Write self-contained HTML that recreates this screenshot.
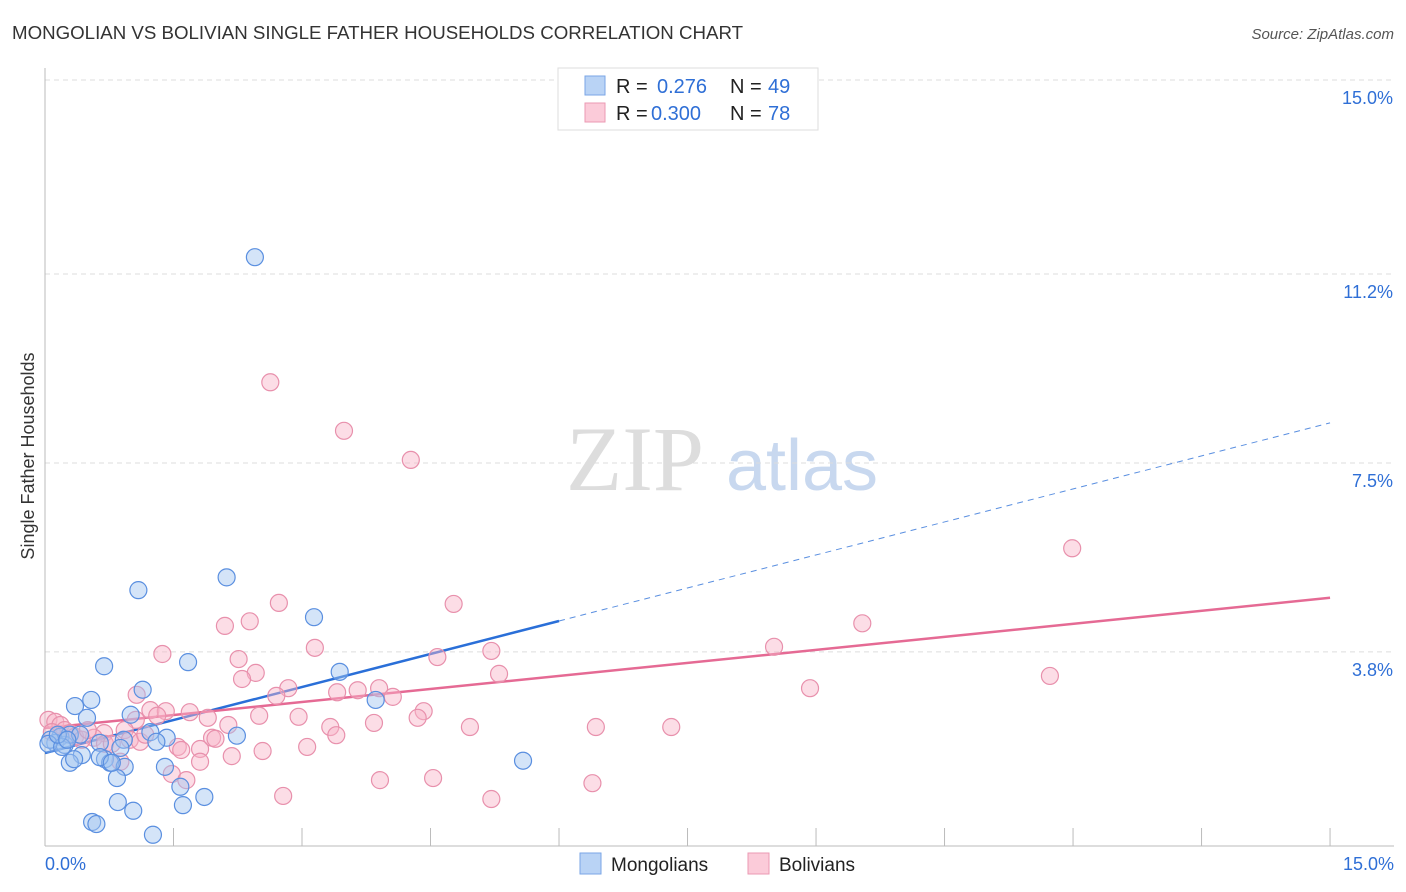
<!DOCTYPE html>
<html><head><meta charset="utf-8"><style>
body{margin:0;background:#fff;font-family:"Liberation Sans",sans-serif;}
svg{display:block}
</style></head><body>
<svg id="chart" width="1406" height="892">
<text x="12" y="39" font-size="18.7" fill="#333">MONGOLIAN VS BOLIVIAN SINGLE FATHER HOUSEHOLDS CORRELATION CHART</text>
<text x="1394" y="39" font-size="15" fill="#555" font-style="italic" text-anchor="end">Source: ZipAtlas.com</text>
<text x="34" y="456" font-size="18" fill="#333" text-anchor="middle" transform="rotate(-90 34 456)">Single Father Households</text>
<g><text x="635" y="490" font-size="92" font-family="Liberation Serif,serif" fill="#ddd" text-anchor="middle">ZIP</text><text x="802" y="490" font-size="72" fill="#c8d8ef" text-anchor="middle">atlas</text></g>
<g id="grid"></g><g id="axes"></g><g id="lines"></g><g id="pts"></g>
<g>
<rect x="558" y="68" width="260" height="62" fill="#fff" stroke="#ddd"/>
<rect x="585" y="76" width="20" height="19" fill="#b9d3f5" stroke="#7aa6e6"/>
<rect x="585" y="103" width="20" height="19" fill="#fbcbd9" stroke="#eb9ab3"/>
<text x="616" y="93" font-size="20" fill="#222">R = </text><text x="657" y="93" font-size="20" fill="#2f6fd6">0.276</text><text x="730" y="93" font-size="20" fill="#222">N = </text><text x="768" y="93" font-size="20" fill="#2f6fd6">49</text>
<text x="616" y="120" font-size="20" fill="#222">R = </text><text x="651" y="120" font-size="20" fill="#2f6fd6">0.300</text><text x="730" y="120" font-size="20" fill="#222">N = </text><text x="768" y="120" font-size="20" fill="#2f6fd6">78</text>
</g>
<g>
<rect x="580" y="853" width="21" height="21" fill="#b9d3f5" stroke="#7aa6e6"/><text x="611" y="871" font-size="19" fill="#222">Mongolians</text>
<rect x="748" y="853" width="21" height="21" fill="#fbcbd9" stroke="#eb9ab3"/><text x="779" y="871" font-size="19" fill="#222">Bolivians</text>
</g>
<text x="45" y="870" font-size="18" fill="#2f6fd6">0.0%</text>
<text x="1394" y="870" font-size="18" fill="#2f6fd6" text-anchor="end">15.0%</text>
</svg>
<script>
const yTicks=[15.0,11.2,7.5,3.8];
const yTickLabels=["15.0%","11.2%","7.5%","3.8%"];
const xTicks=[0,1.5,3,4.5,6,7.5,9,10.5,12,13.5,15];
const mongoX=[2.45,2.12,1.09,3.14,0.69,1.67,3.44,1.14,0.54,3.86,0.35,1.00,0.49,2.24,1.23,1.42,0.92,1.30,0.64,0.18,0.12,0.23,0.06,0.29,0.41,0.88,0.43,0.29,0.34,0.70,0.76,0.93,1.40,0.84,1.58,5.58,0.85,1.86,1.61,1.03,0.55,0.60,1.26,0.04,0.20,0.15,0.26,0.64,0.78];
const mongoY=[11.53,5.26,5.01,4.48,3.52,3.60,3.41,3.06,2.86,2.86,2.74,2.57,2.51,2.16,2.23,2.12,2.08,2.04,2.02,2.14,2.02,1.98,2.08,2.18,2.18,1.92,1.78,1.63,1.70,1.70,1.63,1.55,1.55,1.33,1.16,1.67,0.86,0.96,0.80,0.69,0.47,0.43,0.22,2.00,1.94,2.18,2.08,1.74,1.63];
const bolX=[2.63,3.49,4.27,11.99,2.73,4.77,2.39,2.10,9.54,1.37,3.15,8.51,2.26,4.58,5.21,11.73,2.46,2.30,5.30,8.93,2.84,1.07,2.70,3.90,3.65,3.41,4.06,4.42,1.23,1.41,1.69,1.31,2.50,2.96,1.90,4.35,3.84,1.06,2.14,3.33,4.96,6.43,7.31,0.93,3.40,0.69,0.57,1.95,1.99,0.99,3.06,1.11,1.55,1.59,2.54,1.81,2.18,1.81,0.88,1.48,1.65,3.91,4.53,6.39,2.78,5.21,0.04,0.12,0.18,0.23,0.29,0.35,0.43,0.50,0.08,0.70,0.78,1.17];
const bolY=[9.08,8.13,7.56,5.83,4.76,4.74,4.40,4.31,4.36,3.76,3.88,3.90,3.66,3.70,3.82,3.33,3.39,3.27,3.37,3.09,3.09,2.96,2.94,3.09,3.05,3.01,2.92,2.64,2.66,2.64,2.62,2.55,2.55,2.53,2.51,2.51,2.41,2.47,2.37,2.33,2.33,2.33,2.33,2.27,2.17,2.21,2.12,2.12,2.10,2.08,1.94,2.04,1.94,1.88,1.86,1.90,1.76,1.65,1.65,1.41,1.29,1.29,1.33,1.23,0.98,0.92,2.47,2.43,2.37,2.27,2.21,2.14,2.08,2.27,2.23,2.00,2.00,2.18];
const blueLine=[1.82,0.431]; const pinkLine=[2.31,0.170];
const NS="http://www.w3.org/2000/svg";
const X=v=>45+v*85.67, Y=v=>846-v*51.07;
function mk(p,t,a){const e=document.createElementNS(NS,t);for(const k in a)e.setAttribute(k,a[k]);p.appendChild(e);return e;}
const grid=document.getElementById('grid'),axes=document.getElementById('axes'),lines=document.getElementById('lines'),pts=document.getElementById('pts');
yTicks.forEach((t,i)=>{
 const l=mk(grid,'line',{x1:45,x2:1394,y1:Y(t),y2:Y(t),stroke:'#ddd','stroke-dasharray':'5,4'});
 
 
 const tx=mk(grid,'text',{x:1393,y:Y(t)+24,'font-size':18,fill:'#2f6fd6','text-anchor':'end'});tx.textContent=yTickLabels[i];
 
 
});
const ya=mk(axes,'line',{x1:45,x2:45,y1:68,y2:846,stroke:'#bbb'});


const xa=mk(axes,'line',{x1:45,x2:1394,y1:846,y2:846,stroke:'#bbb'});


xTicks.slice(1).forEach(t=>{const l=mk(axes,'line',{x1:X(t),x2:X(t),y1:828,y2:846,stroke:'#bbb'});
 
 });
function dots(xs,ys,fill,stroke,name){xs.forEach((x,i)=>{const c=mk(pts,'circle',{cx:X(x),cy:Y(ys[i]),r:8.5,fill:fill,stroke:stroke,'stroke-width':1.2});
 
 });}
dots(bolX,bolY,'rgba(248,180,200,0.45)','#e890ac','bolivian-point');
dots(mongoX,mongoY,'rgba(160,196,240,0.45)','#5a8fe0','mongolian-point');
const bs=mk(lines,'line',{x1:X(0),y1:Y(blueLine[0]),x2:X(6),y2:Y(blueLine[0]+blueLine[1]*6),stroke:'#2a6fd8','stroke-width':2.5});


const bd=mk(lines,'line',{x1:X(6),y1:Y(blueLine[0]+blueLine[1]*6),x2:X(15),y2:Y(blueLine[0]+blueLine[1]*15),stroke:'#5a8fe0','stroke-width':1,'stroke-dasharray':'6,5'});


const pl=mk(lines,'line',{x1:X(0),y1:Y(pinkLine[0]),x2:X(15),y2:Y(pinkLine[0]+pinkLine[1]*15),stroke:'#e56a94','stroke-width':2.5});


</script>
</body></html>
